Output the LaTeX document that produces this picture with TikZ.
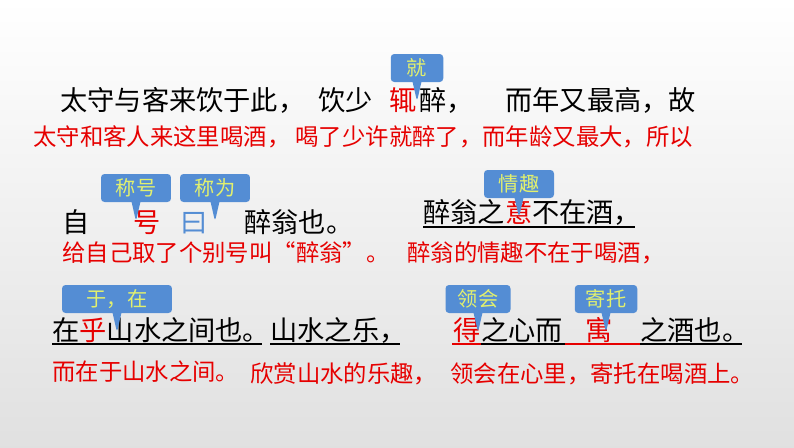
\documentclass[tikz,border=0pt]{standalone}
\usepackage{fontspec}
\setmainfont{Noto Sans CJK SC}
\usetikzlibrary{shapes.callouts}
\definecolor{tipblue}{RGB}{84,141,212}
\definecolor{tipyellow}{RGB}{226,240,110}
\definecolor{notered}{RGB}{230,0,0}
\definecolor{wordblue}{RGB}{84,141,212}
\tikzset{
  src/.style={anchor=base west, inner sep=0pt, font=\fontsize{15.5}{15.5}\selectfont},
  note/.style={anchor=base west, inner sep=0pt, text=notered, font=\fontsize{13.3}{13.3}\selectfont},
  tip/.style={rectangle callout, fill=tipblue, text=tipyellow, rounded corners=2pt,
    font=\fontsize{11.5}{11.5}\selectfont, inner sep=1.5pt, minimum height=0.56cm,
    callout relative pointer={(0pt,-11pt)}, callout pointer width=5pt},
  uline/.style={line width=0.6pt}
}
\begin{document}
\begin{tikzpicture}[x=0.02cm,y=-0.02cm]
  % Hintergrund
  \shade[top color=white, bottom color=black!12] (0,0) rectangle (794,447);
  \useasboundingbox (0,0) rectangle (794,447);

  % Zeile 1
  \node[src] (a1) at (60,110) {太守与客来饮于此，};
  \node[src] (a2) at (318,110) {饮少};
  \node[src, text=notered] (a3) at (389,110) {辄};
  \node[src] (a4) at (419,110) {醉，};
  \node[src] (a5) at (505,110) {而年又最高，故};
  \node[tip, minimum width=1.05cm] (t1) at (417,68) {就};
  \node[note] (n1) at (33,145) {太守和客人来这里喝酒， 喝了少许就醉了，而年龄又最大，所以};

  % Zeile 2
  \node[src] (b1) at (62,232) {自};
  \node[src, text=notered] (b2) at (133,232) {号};
  \node[src, text=wordblue] (b3) at (180,232) {曰};
  \node[src] (b4) at (244,232) {醉翁也。};
  \node[tip, minimum width=1.4cm] (t2) at (136,188) {称号};
  \node[tip, minimum width=1.4cm] (t3) at (215,188) {称为};
  \node[note] (n2) at (62,261) {给自己取了个别号叫“醉翁”。};

  \node[src] (c1) at (423,222) {醉翁之\textcolor{notered}{意}不在酒，};
  \draw[uline] (423,227) -- (635,227);
  \node[tip, minimum width=1.4cm] (t4) at (519,184) {情趣};
  \node[note] (n3) at (407,261) {醉翁的情趣不在于喝酒，};

  % Zeile 3
  \node[src] (d1) at (52,340) {在\textcolor{notered}{乎}山水之间也。};
  \draw[uline] (52,344) -- (262,344);
  \node[src] (d2) at (270,340) {山水之乐，};
  \draw[uline] (270,344) -- (400,344);
  \node[tip, minimum width=2.2cm] (t5) at (117,299) {于，在};
  \node[note] (n4) at (52,380) {而在于山水之间。};
  \node[note] (n5) at (250,382) {欣赏山水的乐趣，};

  \node[src, text=notered] (e1) at (453,340) {得};
  \node[src] (e2) at (481,340) {之心而};
  \node[src, text=notered] (e3) at (585,340) {寓};
  \node[src] (e4) at (640,340) {之酒也。};
  \draw[uline, notered] (452,344) -- (640,344);
  \draw[uline] (481,344) -- (565,344);
  \draw[uline] (640,344) -- (742,344);
  \node[tip, minimum width=1.3cm] (t6) at (478,299) {领会};
  \node[tip, minimum width=1.25cm] (t7) at (606,299) {寄托};
  \node[note] (n6) at (450,382) {领会在心里，寄托在喝酒上。};
\end{tikzpicture}
\end{document}
